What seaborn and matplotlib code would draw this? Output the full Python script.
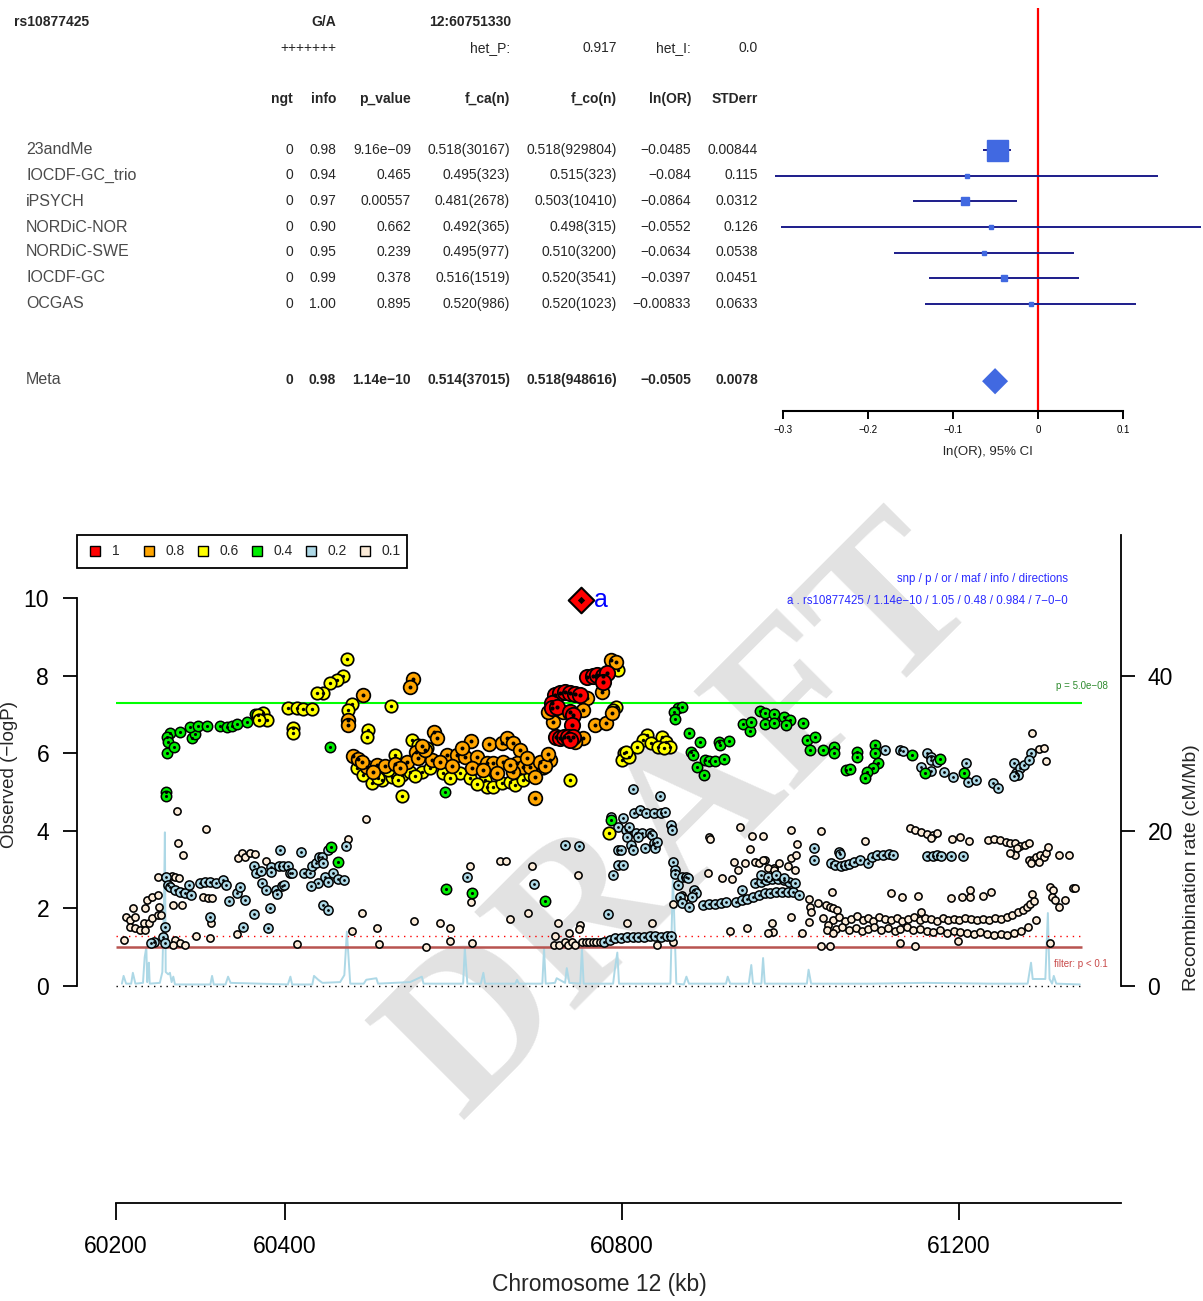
import numpy as np
import pandas as pd
import matplotlib
matplotlib.use("Agg")
import matplotlib.pyplot as plt
from matplotlib.patches import Rectangle, Polygon
import seaborn as sns

sns.set_theme(style="white")
plt.rcParams["font.family"] = ["Liberation Sans", "DejaVu Sans"]
plt.rcParams["axes.unicode_minus"] = True

# ---------------- meta-analysis table ----------------
snp_id = "rs10877425"
alleles = "G/A"
snp_locus = "12:60751330"
directions = "+++++++"
het_p = "0.917"
het_i = "0.0"

studies = ["23andMe", "IOCDF-GC_trio", "iPSYCH", "NORDiC-NOR", "NORDiC-SWE", "IOCDF-GC", "OCGAS"]
ngt = ["0", "0", "0", "0", "0", "0", "0"]
info = ["0.98", "0.94", "0.97", "0.90", "0.95", "0.99", "1.00"]
p_value = ["9.16e\u221209", "0.465", "0.00557", "0.662", "0.239", "0.378", "0.895"]
f_ca = ["0.518(30167)", "0.495(323)", "0.481(2678)", "0.492(365)", "0.495(977)", "0.516(1519)", "0.520(986)"]
f_co = ["0.518(929804)", "0.515(323)", "0.503(10410)", "0.498(315)", "0.510(3200)", "0.520(3541)", "0.520(1023)"]
ln_or = [-0.0485, -0.084, -0.0864, -0.0552, -0.0634, -0.0397, -0.00833]
ln_or_txt = ["\u22120.0485", "\u22120.084", "\u22120.0864", "\u22120.0552", "\u22120.0634", "\u22120.0397", "\u22120.00833"]
stderr = [0.00844, 0.115, 0.0312, 0.126, 0.0538, 0.0451, 0.0633]
stderr_txt = ["0.00844", "0.115", "0.0312", "0.126", "0.0538", "0.0451", "0.0633"]

meta_vals = ["0", "0.98", "1.14e\u221210", "0.514(37015)", "0.518(948616)", "\u22120.0505", "0.0078"]
meta_or = -0.0505
meta_se = 0.0078

# ---------------- regional association data (kb, -log10 P) ----------------
lead_pos = 60751.33
lead_logp = 9.94

red_pts = [(60759, 7.96), (60766, 7.99), (60771, 8.02), (60778, 7.99), (60783, 8.07), (60778, 7.84),
           (60721, 7.50), (60727, 7.55), (60733, 7.58), (60739, 7.55), (60745, 7.53), (60751, 7.50),
           (60718, 7.29), (60718, 7.16), (60723, 7.19), (60739, 7.06), (60742, 6.98), (60741, 6.73),
           (60722, 6.42), (60727, 6.39), (60732, 6.42), (60737, 6.42), (60742, 6.42), (60739, 6.34)]

orange_pts = [(60787, 8.40), (60793, 8.35), (60777, 7.58), (60759, 7.42), (60754, 7.11), (60737, 7.06),
              (60731, 7.06), (60719, 6.80), (60754, 6.39), (60745, 6.29), (60769, 6.73), (60782, 6.78),
              (60789, 7.04), (60713, 7.06),
              (60553, 7.91), (60549, 7.71), (60493, 7.50), (60475, 6.86), (60475, 6.73), (60577, 6.55),
              (60581, 6.39), (60621, 6.31), (60643, 6.24), (60658, 6.26), (60664, 6.39), (60671, 6.26),
              (60680, 6.08), (60697, 4.85),
              (60481, 5.93), (60487, 5.85), (60498, 5.64), (60510, 5.70), (60519, 5.67), (60545, 5.77),
              (60556, 6.03), (60558, 5.88), (60575, 5.82), (60593, 5.95), (60605, 5.95), (60614, 5.90),
              (60628, 5.90), (60640, 5.75), (60647, 5.75), (60659, 5.77), (60676, 5.75), (60683, 5.64),
              (60691, 5.64), (60703, 5.77), (60715, 5.82), (60623, 5.62), (60652, 5.49), (60671, 5.52),
              (60697, 5.39), (60492, 5.77), (60505, 5.52), (60531, 5.72), (60537, 5.62), (60567, 6.08),
              (60585, 5.77), (60599, 5.67), (60636, 5.57), (60668, 5.70), (60688, 5.88), (60709, 5.67),
              (60713, 5.98), (60611, 6.13), (60563, 6.19)]

yellow_pts = [(60474, 8.43), (60469, 7.99), (60462, 7.89), (60454, 7.81), (60446, 7.55), (60439, 7.55),
              (60404, 7.16), (60415, 7.16), (60422, 7.14), (60433, 7.14), (60480, 7.27), (60475, 7.11),
              (60526, 7.22), (60410, 6.65), (60410, 6.52), (60499, 6.60), (60498, 6.42), (60374, 7.04),
              (60369, 6.98), (60379, 6.86), (60370, 6.86), (60551, 6.34), (60558, 6.21), (60569, 6.13),
              (60531, 5.95),
              (60486, 5.62), (60493, 5.44), (60504, 5.23), (60516, 5.31), (60528, 5.39), (60539, 5.44),
              (60549, 5.52), (60563, 5.52), (60573, 5.62), (60588, 5.49), (60608, 5.49), (60620, 5.36),
              (60638, 5.31), (60640, 5.13), (60647, 5.13), (60658, 5.23), (60668, 5.26), (60674, 5.18),
              (60707, 5.62), (60739, 5.31), (60539, 4.90), (60511, 5.36), (60535, 5.31), (60555, 5.41),
              (60596, 5.36), (60629, 5.21), (60683, 5.31), (60691, 5.44), (60523, 5.57),
              (60796, 8.14), (60793, 7.19), (60790, 7.11),
              (60830, 6.47), (60825, 6.34), (60848, 6.42), (60853, 6.29), (60858, 6.16), (60835, 6.26),
              (60818, 6.16), (60803, 6.01), (60801, 5.82), (60809, 5.90), (60805, 6.03), (60843, 6.16),
              (60850, 6.13), (60785, 3.94)]

green_pts = [(60261, 6.01), (60264, 6.52), (60261, 6.42), (60262, 6.29), (60269, 6.16), (60276, 6.55),
             (60290, 6.39), (60294, 6.49), (60288, 6.68), (60297, 6.70), (60308, 6.70), (60323, 6.70),
             (60332, 6.68), (60338, 6.70), (60344, 6.75), (60355, 6.80), (60365, 7.01), (60454, 6.16),
             (60259, 5.00), (60259, 4.90), (60455, 3.58), (60463, 3.20), (60592, 2.50), (60623, 2.40),
             (60709, 2.19), (60788, 4.28), (60590, 5.00),
             (60867, 7.16), (60872, 7.19), (60862, 7.06), (60863, 6.88), (60880, 6.52), (60893, 6.29),
             (60916, 6.29), (60917, 6.21), (60928, 6.31), (60882, 6.03), (60885, 5.95), (60899, 5.82),
             (60904, 5.80), (60911, 5.80), (60922, 5.85), (60890, 5.64), (60898, 5.44), (60944, 6.75),
             (60953, 6.57), (60954, 6.80), (60964, 7.09), (60970, 7.04), (60981, 7.01), (60993, 6.93),
             (61000, 6.86), (61015, 6.78), (60970, 6.75), (60981, 6.78), (60995, 6.73), (61020, 6.34),
             (61030, 6.42), (61024, 6.08), (61039, 6.08), (61052, 6.16), (61052, 6.01), (61080, 6.03),
             (61080, 5.90), (61101, 6.21), (61101, 6.01), (61104, 5.75), (61098, 5.62), (61091, 5.52),
             (61089, 5.36), (61066, 5.57), (61071, 5.59), (61145, 5.95), (61160, 5.49), (61178, 5.85),
             (61207, 5.49)]

lightblue_pts = [(60259, 2.81), (60262, 2.60), (60264, 2.55), (60270, 2.47), (60276, 2.42), (60282, 2.40),
                 (60289, 2.35), (60287, 2.60), (60300, 2.65), (60306, 2.68), (60312, 2.68), (60319, 2.65),
                 (60327, 2.73), (60331, 2.60), (60258, 1.52), (60256, 1.26), (60258, 1.11), (60245, 1.13),
                 (60242, 1.11), (60312, 1.78),
                 (60334, 2.19), (60344, 2.40), (60347, 2.55), (60353, 2.22), (60364, 1.86), (60351, 1.52),
                 (60380, 1.49), (60383, 2.01), (60373, 2.65), (60378, 2.47), (60390, 2.47), (60391, 2.37),
                 (60397, 2.58), (60399, 2.60),
                 (60364, 3.09), (60366, 2.91), (60372, 2.96), (60384, 3.07), (60384, 2.94), (60393, 3.09),
                 (60398, 3.09), (60404, 3.09), (60407, 2.91), (60409, 2.91), (60395, 3.51), (60420, 3.45),
                 (60423, 2.91), (60430, 2.91), (60433, 3.09), (60437, 3.17), (60441, 3.32), (60445, 3.32),
                 (60446, 3.17), (60440, 2.65), (60448, 2.81), (60452, 2.68), (60458, 2.91), (60463, 2.76),
                 (60471, 2.73), (60431, 2.58), (60446, 2.09), (60452, 1.96), (60452, 3.51), (60473, 3.61),
                 (60617, 2.81), (60696, 2.63), (60733, 3.63), (60750, 3.61), (60784, 1.86), (60790, 2.86),
                 (60796, 3.51), (60796, 3.12),
                 (60788, 4.36), (60802, 4.33), (60815, 4.46), (60822, 4.54), (60829, 4.46), (60839, 4.46),
                 (60847, 4.46), (60852, 4.48), (60814, 5.08), (60846, 4.90), (60796, 4.10), (60805, 4.02),
                 (60809, 4.10), (60806, 3.84), (60817, 3.94), (60824, 3.94), (60820, 3.84), (60834, 3.94),
                 (60836, 3.89), (60839, 3.69), (60799, 3.51), (60811, 3.63), (60814, 3.51), (60828, 3.56),
                 (60840, 3.56), (60842, 3.71), (60802, 3.12), (60859, 4.15), (60860, 4.02),
                 (60779, 1.13), (60786, 1.19), (60792, 1.24), (60799, 1.24), (60806, 1.26), (60814, 1.26),
                 (60820, 1.26), (60827, 1.26), (60834, 1.29), (60840, 1.29), (60847, 1.26), (60854, 1.29),
                 (60859, 1.29),
                 (60861, 3.20), (60863, 2.99), (60863, 2.89), (60867, 2.60), (60872, 2.81), (60877, 2.81),
                 (60879, 2.78), (60869, 2.29), (60872, 2.14), (60880, 2.04), (60886, 2.47), (60888, 2.40),
                 (60884, 2.29),
                 (60897, 2.09), (60904, 2.11), (60911, 2.11), (60918, 2.14), (60924, 2.16), (60936, 2.16),
                 (60943, 2.22), (60949, 2.24), (60956, 2.29), (60963, 2.35), (60970, 2.40), (60976, 2.40),
                 (60983, 2.42), (60990, 2.42), (60998, 2.42), (61004, 2.42), (61011, 2.35),
                 (60958, 2.65), (60966, 2.68), (60971, 2.73), (60979, 2.76), (60986, 2.76), (60993, 2.73),
                 (60999, 2.68), (61006, 2.65), (60966, 2.86), (60974, 2.81), (60983, 2.86), (60993, 2.78),
                 (60943, 2.47), (61028, 3.56), (61028, 3.25),
                 (61049, 3.17), (61053, 3.12), (61060, 3.09), (61065, 3.12), (61070, 3.14), (61076, 3.20),
                 (61083, 3.25), (61093, 3.17), (61097, 3.32), (61103, 3.38), (61110, 3.38), (61117, 3.40),
                 (61122, 3.38), (61058, 3.45), (61059, 3.40),
                 (61163, 3.35), (61170, 3.35), (61174, 3.38), (61179, 3.35), (61191, 3.35), (61205, 3.35),
                 (61113, 6.08), (61131, 6.08), (61134, 6.06), (61163, 6.01), (61167, 5.90), (61155, 5.64),
                 (61167, 5.82), (61174, 5.77), (61183, 5.52), (61167, 5.54), (61193, 5.39), (61209, 5.75),
                 (61211, 5.26), (61221, 5.31), (61241, 5.23), (61247, 5.10), (61266, 5.75), (61268, 5.49),
                 (61273, 5.62), (61278, 5.70), (61286, 6.01), (61284, 5.82), (61271, 5.44), (61266, 5.41)]

beige_pts = [(60272, 4.51), (60307, 4.05), (60274, 3.69), (60280, 3.38), (60250, 2.81), (60266, 2.84),
             (60270, 2.81), (60275, 2.78),
             (60212, 1.78), (60217, 1.70), (60223, 1.78), (60217, 1.52), (60223, 1.49), (60228, 1.44),
             (60233, 1.62), (60234, 1.44), (60239, 1.62), (60243, 1.75), (60250, 1.83), (60253, 1.83),
             (60234, 2.01), (60237, 2.22), (60243, 2.29), (60250, 2.35), (60251, 2.04), (60220, 2.01),
             (60209, 1.19),
             (60270, 1.19), (60276, 1.11), (60282, 1.06), (60268, 1.06), (60268, 2.09), (60278, 2.09),
             (60303, 2.29), (60309, 2.27), (60314, 2.27), (60313, 1.62), (60344, 1.34), (60312, 1.24),
             (60295, 1.29),
             (60345, 3.30), (60350, 3.43), (60353, 3.32), (60359, 3.43), (60365, 3.40), (60378, 3.22),
             (60475, 3.79), (60497, 4.30), (60492, 1.88), (60510, 1.49), (60512, 1.08), (60480, 1.42),
             (60415, 1.08),
             (60554, 1.68), (60568, 1.01), (60585, 1.62), (60596, 1.49), (60596, 1.16), (60623, 1.11),
             (60620, 3.09), (60621, 2.16), (60656, 3.22), (60663, 3.22), (60694, 3.09), (60668, 1.73),
             (60689, 1.88), (60725, 1.62), (60721, 1.29), (60738, 1.37), (60751, 1.57), (60750, 1.47),
             (60748, 2.86),
             (60720, 1.06), (60726, 1.06), (60733, 1.13), (60737, 1.06), (60741, 1.13), (60745, 1.06),
             (60753, 1.13), (60758, 1.13), (60761, 1.13), (60766, 1.13), (60770, 1.13), (60774, 1.13),
             (60807, 1.62), (60836, 1.62), (60842, 1.06), (60861, 1.13), (60861, 2.11),
             (60904, 3.84), (60905, 3.79), (60941, 4.10), (60955, 3.87), (60968, 3.87), (61001, 4.02),
             (61037, 4.00), (60952, 3.53), (60970, 3.25), (61001, 3.30), (60981, 3.04), (61006, 2.99),
             (60934, 3.20), (60938, 2.99), (60947, 3.17), (60958, 3.20), (60963, 3.17), (60968, 3.25),
             (60974, 3.04), (60981, 2.99), (60987, 3.17), (60998, 3.09), (61007, 3.38), (61008, 3.66),
             (60919, 2.78), (60931, 2.76), (60903, 2.91), (60872, 2.35), (60874, 2.27),
             (61142, 4.07), (61148, 4.02), (61155, 3.97), (61163, 3.92), (61170, 3.89), (61174, 3.94),
             (61167, 3.81), (61192, 3.79), (61202, 3.84), (61212, 3.74), (61089, 3.74), (61235, 3.76),
             (61242, 3.79), (61249, 3.76), (61256, 3.71), (61261, 3.69), (61267, 3.69), (61273, 3.61),
             (61279, 3.63), (61284, 3.69), (61269, 3.56), (61267, 3.38), (61261, 3.43), (61284, 3.25),
             (61288, 3.25), (61292, 3.32), (61297, 3.38), (61301, 3.32), (61304, 3.43), (61306, 3.58),
             (61286, 3.17), (61296, 3.20), (61319, 3.38), (61331, 3.38),
             (61309, 2.55), (61312, 2.47), (61311, 2.29), (61315, 2.22), (61319, 2.04), (61326, 2.22),
             (61336, 2.53), (61338, 2.53), (61287, 2.37), (61292, 1.70), (61309, 1.11),
             (61287, 6.52), (61296, 6.11), (61302, 6.13), (61304, 5.80),
             (61022, 2.24), (61024, 2.04), (61025, 1.91), (61033, 2.14), (61043, 2.09), (61047, 2.04),
             (61051, 2.01), (61056, 1.96),
             (61039, 1.75), (61051, 1.70), (61058, 1.78), (61065, 1.68), (61072, 1.73), (61079, 1.80),
             (61086, 1.70), (61092, 1.75), (61099, 1.68), (61106, 1.78), (61113, 1.72), (61120, 1.70),
             (61127, 1.75), (61133, 1.68), (61140, 1.73), (61147, 1.78), (61154, 1.70), (61160, 1.75),
             (61167, 1.72), (61174, 1.68), (61181, 1.75), (61188, 1.70), (61195, 1.73), (61201, 1.70),
             (61208, 1.75), (61215, 1.72), (61222, 1.70), (61229, 1.73), (61236, 1.70), (61243, 1.75),
             (61250, 1.73), (61257, 1.78), (61264, 1.83), (61270, 1.90), (61276, 1.96), (61281, 2.04),
             (61285, 2.12), (61290, 2.20),
             (61045, 1.57), (61055, 1.47), (61062, 1.52), (61070, 1.44), (61078, 1.50), (61085, 1.42),
             (61093, 1.47), (61100, 1.52), (61108, 1.44), (61116, 1.49), (61124, 1.42), (61131, 1.47),
             (61139, 1.52), (61146, 1.44), (61154, 1.47), (61162, 1.42), (61170, 1.39), (61178, 1.44),
             (61186, 1.37), (61194, 1.42), (61202, 1.39), (61210, 1.37), (61218, 1.34), (61226, 1.39),
             (61234, 1.34), (61242, 1.32), (61250, 1.34), (61258, 1.32), (61266, 1.37), (61274, 1.42),
             (61282, 1.52),
             (61120, 2.40), (61133, 2.29), (61152, 2.32), (61191, 2.27), (61204, 2.29), (61214, 2.29),
             (61214, 2.47), (61229, 2.32), (61239, 2.42), (61155, 1.91), (61050, 2.42), (61001, 1.78),
             (61022, 1.65), (61044, 1.44), (60949, 1.49), (60929, 1.42), (60979, 1.62), (60980, 1.39),
             (60974, 1.37), (61014, 1.37), (61051, 1.37), (61037, 1.03), (61047, 1.03), (61131, 1.11),
             (61148, 1.03), (61199, 1.16)]

# recombination rate (cM/Mb)
rec_pos = [60207, 60209, 60212, 60218, 60220, 60223, 60232, 60234, 60236, 60237, 60238, 60239, 60240,
           60252, 60255, 60257, 60258, 60259, 60262, 60264, 60266, 60268, 60270, 60312, 60314, 60316,
           60330, 60333, 60336, 60404, 60407, 60409, 60433, 60435, 60440, 60445, 60466, 60471, 60474,
           60478, 60494, 60497, 60509, 60511, 60549, 60563, 60565, 60612, 60614, 60617, 60633, 60636,
           60638, 60674, 60676, 60678, 60706, 60708, 60710, 60721, 60723, 60733, 60735, 60738, 60751,
           60753, 60755, 60790, 60792, 60795, 60797, 60858, 60861, 60865, 60874, 60877, 60880, 60924,
           60926, 60929, 60951, 60954, 60956, 60966, 60968, 60970, 61020, 61022, 61025, 61095, 61160,
           61240, 61282, 61286, 61288, 61292, 61303, 61306, 61308, 61311, 61313, 61316, 61344]
rec_rate = [0.3, 1.3, 0.3, 0.3, 1.7, 0.3, 0.4, 3.7, 5.0, 0.5, 2.1, 3.0, 0.3,
            0.4, 1.8, 11.0, 19.8, 1.8, 1.5, 1.7, 0.5, 1.2, 0.2, 0.2, 1.3, 0.2,
            0.2, 1.2, 0.4, 0.2, 1.2, 0.2, 0.2, 1.3, 0.8, 0.4, 0.5, 1.4, 7.0,
            0.3, 0.3, 0.8, 1.0, 0.3, 0.5, 1.2, 0.3, 0.3, 4.9, 0.3, 0.3, 1.7,
            0.3, 0.3, 0.8, 0.3, 0.3, 4.9, 0.3, 0.4, 1.0, 0.4, 2.3, 0.4, 0.3,
            4.9, 0.3, 0.3, 2.1, 4.3, 0.3, 0.3, 14.3, 0.3, 0.2, 1.2, 0.3, 0.3,
            1.2, 0.3, 0.3, 2.7, 0.3, 0.3, 3.6, 0.3, 0.3, 2.1, 0.3, 0.3, 0.4,
            0.3, 0.3, 3.0, 0.9, 0.9, 0.9, 9.4, 0.9, 0.3, 1.3, 0.3, 0.2]

ld_labels = ["0.1", "0.2", "0.4", "0.6", "0.8", "1"]
ld_colors = ["#FBEBD8", "#ADD8E6", "#00EE00", "#FFFF00", "#FFA500", "#FF0000"]

# ---------------- figure ----------------
W, H = 1203, 1301
fig = plt.figure(figsize=(W / 100, H / 100), dpi=100)


def fx(px):
    return px / W


def fy(py):
    return 1 - py / H


# table header
fig.text(fx(14), fy(22), snp_id, fontsize=10, weight="bold", va="center", ha="left")
fig.text(fx(336), fy(22), alleles, fontsize=10, weight="bold", va="center", ha="right")
fig.text(fx(429), fy(22), snp_locus, fontsize=10, weight="bold", va="center", ha="left")
fig.text(fx(336), fy(48), directions, fontsize=10, va="center", ha="right")
fig.text(fx(510), fy(48), "het_P:", fontsize=10, va="center", ha="right")
fig.text(fx(617), fy(48), het_p, fontsize=10, va="center", ha="right")
fig.text(fx(691), fy(48), "het_I:", fontsize=10, va="center", ha="right")
fig.text(fx(758), fy(48), het_i, fontsize=10, va="center", ha="right")

col_right = [293, 336, 411, 510, 617, 691, 758]
headers = ["ngt", "info", "p_value", "f_ca(n)", "f_co(n)", "ln(OR)", "STDerr"]
for xr, h in zip(col_right, headers):
    fig.text(fx(xr), fy(99), h, fontsize=10, weight="bold", va="center", ha="right")

row_px = [150, 175, 201, 227, 252, 278, 304]
for i, name in enumerate(studies):
    y = fy(row_px[i])
    fig.text(fx(26), y, name, fontsize=11.5, color="#4a4a4a", va="center", ha="left")
    vals = [ngt[i], info[i], p_value[i], f_ca[i], f_co[i], ln_or_txt[i], stderr_txt[i]]
    for xr, v in zip(col_right, vals):
        fig.text(fx(xr), y, v, fontsize=10, va="center", ha="right")
fig.text(fx(26), fy(380), "Meta", fontsize=11.5, color="#4a4a4a", va="center", ha="left")
for xr, v in zip(col_right, meta_vals):
    fig.text(fx(xr), fy(380), v, fontsize=10, weight="bold", va="center", ha="right")

# ---------------- forest plot ----------------
axf = fig.add_axes([fx(783), fy(411), fx(1123) - fx(783), fy(8) - fy(411)])
axf.set_facecolor("none")
axf.set_xlim(-0.3, 0.1)
axf.set_ylim(10.16, -5.53)
rows = np.arange(len(studies))
est = np.array(ln_or)
se = np.array(stderr)
lo = est - 1.96 * se
hi = est + 1.96 * se
axf.axvline(0, color="red", lw=1.6, zorder=1)
axf.hlines(rows, lo, hi, color="#1c1c8a", lw=1.4, clip_on=False, zorder=2)
side_px = 2 + 19 * (stderr[0] / se)
for r, e, s in zip(rows, est, side_px):
    axf.plot([e], [r], marker="s", markersize=s * 0.72, color="#4169E1", mec="#4169E1", zorder=3)
m_lo = meta_or - 1.96 * meta_se
m_hi = meta_or + 1.96 * meta_se
axf.add_patch(Polygon([(m_lo, 9), (meta_or, 8.49), (m_hi, 9), (meta_or, 9.51)],
                      closed=True, facecolor="#4169E1", edgecolor="none", zorder=3))
for side in ["top", "left", "right"]:
    axf.spines[side].set_visible(False)
axf.spines["bottom"].set_bounds(-0.3, 0.1)
axf.spines["bottom"].set_linewidth(1.5)
axf.spines["bottom"].set_color("black")
axf.set_yticks([])
axf.set_xticks([-0.3, -0.2, -0.1, 0, 0.1])
axf.set_xticklabels(["\u22120.3", "\u22120.2", "\u22120.1", "0", "0.1"])
axf.tick_params(axis="x", bottom=True, direction="out", length=6, width=1.4, labelsize=7, pad=4, colors="black")
fig.text(fx(988), fy(452), "ln(OR), 95% CI", fontsize=9.5, ha="center", va="center")

# ---------------- regional association plot ----------------
ax = fig.add_axes([fx(77), fy(1203), fx(1121) - fx(77), fy(535) - fy(1203)])
ax.set_facecolor("none")
ax2 = ax.twinx()
ax2.set_zorder(ax.get_zorder() - 1)
ax.patch.set_visible(False)
ax.set_xlim(60153.7, 61392.8)
ax.set_ylim(-5.593, 11.624)
ax2.set_ylim(-27.97, 58.12)

sns.lineplot(x=rec_pos, y=rec_rate, ax=ax2, color="#ADD8E6", lw=1.4, estimator=None, sort=False)

x0, x1 = 60200, 61347
ax.hlines(7.30, x0, x1, color="#00FF00", lw=1.5, zorder=2)
ax.hlines(1.30, x0, x1, color="red", lw=1.0, linestyles=(0, (1, 3.5)), zorder=2)
ax.hlines(1.0, x0, x1, color="#B85450", lw=1.8, zorder=2)
ax.hlines(0.0, x0, x1, color="black", lw=1.0, linestyles=(0, (1, 3.5)), zorder=2)

all_pts = [beige_pts, lightblue_pts, green_pts, yellow_pts, orange_pts, red_pts]
ring_sizes = [27, 44, 56, 80, 97, 122]
ring_lw = [1.15, 1.1, 1.1, 1.25, 1.25, 1.3]
dot_sizes = [0, 4, 5, 6, 8, 9]
for lab, pts, col, rs, lw, ds in zip(ld_labels, all_pts, ld_colors, ring_sizes, ring_lw, dot_sizes):
    d = pd.DataFrame(pts, columns=["pos", "logp"])
    sns.scatterplot(data=d, x="pos", y="logp", s=rs, color=col, edgecolor="black",
                    linewidth=lw, ax=ax, zorder=4, legend=False)
    if ds:
        sns.scatterplot(data=d, x="pos", y="logp", s=ds, color="black", linewidth=0,
                        ax=ax, zorder=4, legend=False)

sns.scatterplot(x=[lead_pos], y=[lead_logp], marker="D", s=170, color="red", edgecolor="black",
                linewidth=1.5, ax=ax, zorder=6, legend=False)
sns.scatterplot(x=[lead_pos], y=[lead_logp], marker="D", s=14, color="black", linewidth=0,
                ax=ax, zorder=7, legend=False)
ax.text(60767, lead_logp, "a", color="blue", fontsize=18, ha="left", va="center", zorder=7)

ax.text(61330, 10.49, "snp / p / or / maf / info / directions", color="#2b2bff", fontsize=8.3,
        ha="right", va="center")
ax.text(61330, 9.92, "a . rs10877425 / 1.14e\u221210 / 1.05 / 0.48 / 0.984 / 7\u22120\u22120",
        color="#2b2bff", fontsize=8.3, ha="right", va="center")
ax.text(61377, 7.73, "p = 5.0e\u221208", color="#2e8b2e", fontsize=7, ha="right", va="center")
ax.text(61377, 0.57, "filter: p < 0.1", color="#c84848", fontsize=7, ha="right", va="center")

# axes styling
for a in (ax, ax2):
    for s in a.spines.values():
        s.set_visible(False)
ax.spines["left"].set_visible(True)
ax.spines["left"].set_bounds(0, 10)
ax.spines["bottom"].set_visible(True)
ax.spines["bottom"].set_bounds(60200, 61392.8)
ax2.spines["right"].set_visible(True)
ax2.spines["right"].set_bounds(0, 58.12)
for s in (ax.spines["left"], ax.spines["bottom"], ax2.spines["right"]):
    s.set_color("black")
    s.set_linewidth(1.3)

ax.set_yticks([0, 2, 4, 6, 8, 10])
ax.set_yticklabels(["0", "2", "4", "6", "8", "10"])
ax.set_xticks([60200, 60400, 60800, 61200])
ax.set_xticklabels(["60200", "60400", "60800", "61200"])
ax.tick_params(axis="y", left=True, direction="out", length=10, width=1.3, labelsize=16.5, pad=10, colors="black")
ax.tick_params(axis="x", bottom=True, direction="out", length=12, width=1.3, labelsize=16.5, pad=11, colors="black")
ax2.set_yticks([0, 20, 40])
ax2.set_yticklabels(["0", "20", "40"])
ax2.tick_params(axis="y", right=True, direction="out", length=10, width=1.3, labelsize=16.5, pad=9, colors="black")
ax.set_xlabel("")
ax.set_ylabel("")
ax2.set_ylabel("")

fig.text(fx(10), fy(774), "Observed (\u2212logP)", fontsize=13.5, rotation=90, ha="center", va="center")
fig.text(fx(1192), fy(868), "Recombination rate (cM/Mb)", fontsize=14, rotation=90, ha="center", va="center")
fig.text(fx(599), fy(1285), "Chromosome 12 (kb)", fontsize=16.5, ha="center", va="center")

# LD legend
fig.add_artist(Rectangle((fx(77), fy(568)), fx(407) - fx(77), fy(535) - fy(568),
                         transform=fig.transFigure, fill=False, edgecolor="black", lw=1.3))
for k, (lab, col) in enumerate(zip(ld_labels[::-1], ld_colors[::-1])):
    cx = 95 + 54 * k
    fig.add_artist(Rectangle((fx(cx - 5), fy(556)), fx(10), fy(546) - fy(556),
                             transform=fig.transFigure, facecolor=col, edgecolor="black", lw=1.0))
    fig.text(fx(cx + 17), fy(551), lab, fontsize=10, ha="left", va="center")

# watermark (anchored at the centre of its baseline)
fig.text(fx(723), fy(859), "DRAFT", rotation=45, rotation_mode="anchor", fontsize=155,
         family=["Liberation Serif", "DejaVu Serif"], weight="bold", color="#e2e2e2",
         ha="center", va="baseline", zorder=-5)

fig.savefig("out.png", dpi=100)
